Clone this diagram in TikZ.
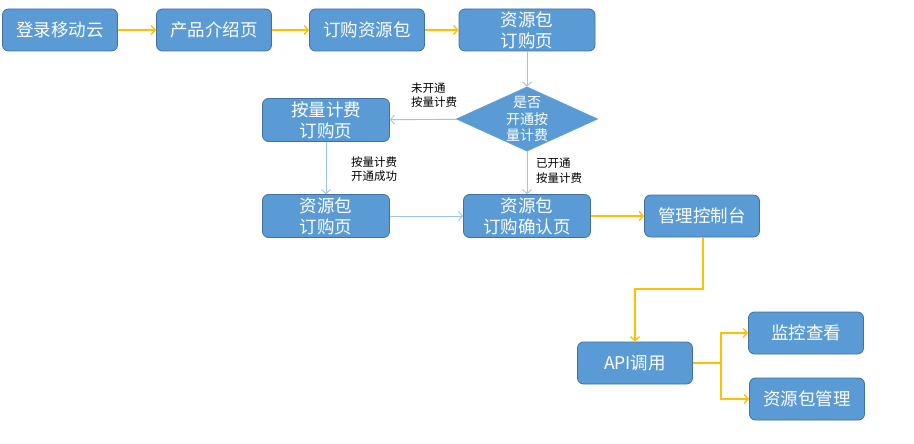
\documentclass[tikz,border=0pt]{standalone}
\usepackage{fontspec}
\setmainfont{Noto Sans CJK SC}
\usetikzlibrary{arrows.meta,shapes.geometric}
\definecolor{boxfill}{HTML}{5B9BD5}
\definecolor{boxline}{HTML}{41719C}
\definecolor{orangeline}{HTML}{FFC000}
\definecolor{blueline}{HTML}{9DC3E6}
\begin{document}
\begin{tikzpicture}[x=1pt,y=-1pt,
  box/.style={draw=boxline,line width=0.8pt,fill=boxfill,rounded corners=6pt,
    minimum width=115pt,minimum height=42pt,inner sep=1pt,text=white,
    font=\fontsize{17.5}{20}\selectfont,align=center},
  twoline/.style={font=\fontsize{17.5}{21}\selectfont},
  wbox/.style={box,minimum width=127pt,minimum height=43pt},
  dec/.style={draw=boxfill,fill=boxfill,diamond,aspect=2.2,minimum width=138pt,minimum height=62pt,inner sep=0pt,
    text=white,font=\fontsize{14}{16.5}\selectfont,align=center},
  oarrow/.style={draw=orangeline,line width=1.4pt,-{Straight Barb[length=4pt,width=9pt]}},
  barrow/.style={draw=blueline,line width=0.9pt,-{Straight Barb[length=4pt,width=9pt]}},
  lbl/.style={font=\fontsize{11.5}{14.5}\selectfont,align=left,inner sep=0pt}]
\useasboundingbox (0,0) rectangle (914,444);
\fill[white] (0,0) rectangle (914,444);
\node[box] (login) at (60,30) {登录移动云};
\node[box] (intro) at (214,30) {产品介绍页};
\node[box] (order) at (367,30) {订购资源包};
\node[box,minimum width=136pt,twoline] (pkg) at (527,30) {资源包\\订购页};
\node[dec] (q) at (527,119) {是否\\开通按\\量计费};
\node[wbox,twoline] (pay) at (326,120) {按量计费\\订购页};
\node[wbox,twoline] (pkg2) at (326,216) {资源包\\订购页};
\node[wbox,twoline] (conf) at (527,216) {资源包\\订购确认页};
\node[box] (mgr) at (702,216) {管理控制台};
\node[box] (api) at (635,363) {API调用};
\node[box] (mon) at (806,333) {监控查看};
\node[box] (res) at (807,399) {资源包管理};
\draw[oarrow] (login) -- (intro);
\draw[oarrow] (intro) -- (order);
\draw[oarrow] (order) -- (pkg);
\draw[barrow] (pkg) -- (q);
\draw[barrow] (q) -- (pay);
\draw[barrow] (pay) -- (pkg2);
\draw[barrow] (pkg2) -- (conf);
\draw[barrow] (q) -- (conf);
\draw[oarrow] (conf) -- (mgr);
\coordinate (m1) at (703,289);
\draw[oarrow] (mgr.south -| m1) -- (m1) -| (api.north);
\coordinate (j) at (721,363);
\draw[draw=orangeline,line width=1.4pt] (api) -- (j);
\draw[oarrow] (j) |- (mon);
\draw[oarrow] (j) |- (res);
\node[lbl,anchor=west] (l1) at (411,95) {未开通\\按量计费};
\node[lbl,anchor=west] (l2) at (351,169) {按量计费\\开通成功};
\node[lbl,anchor=west] (l3) at (536,171) {已开通\\按量计费};
\end{tikzpicture}
\end{document}
